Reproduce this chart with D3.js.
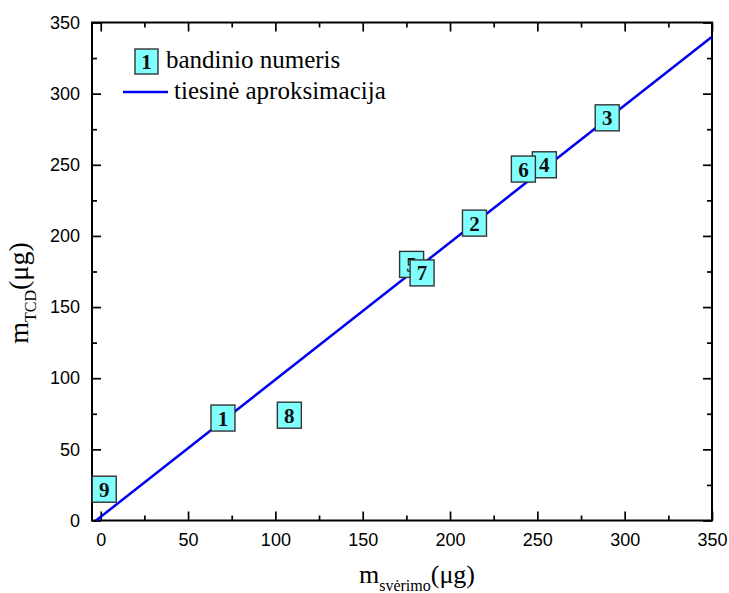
<!DOCTYPE html>
<html>
<head>
<meta charset="utf-8">
<script src="https://cdn.jsdelivr.net/npm/d3@7"></script>
<style>
  html, body { margin: 0; padding: 0; background: #fff; }
  svg { display: block; }
</style>
</head>
<body>
<svg id="chart" width="729" height="593"></svg>
<script>
// Sample masses: weighing (x) vs TCD (y), µg
const sampleIds = ["1", "2", "3", "4", "5", "6", "7", "8", "9"];
const massWeighed = [70, 214, 290, 254, 178, 242, 184, 108, 2];
const massTCD = [72, 209, 283, 250, 180, 247, 174, 74, 22];

// Linear fit y = a + b*x
const fitIntercept = 2.6;
const fitSlope = 0.964;
const fitRange = [-2.7, 350];

const xTicks = [0, 50, 100, 150, 200, 250, 300, 350];
const yTicks = [0, 50, 100, 150, 200, 250, 300, 350];
const minorStep = 25;

const svg = d3.select("#chart");
const plotL = 92, plotR = 712, plotT = 22.5, plotB = 520.5;

const x = d3.scaleLinear().domain([-5, 350]).range([plotL, plotR]);
const y = d3.scaleLinear().domain([0, 350]).range([plotB, plotT]);

const tickFont = "'Liberation Sans', Arial, sans-serif";
const serif = "'Liberation Serif', 'Times New Roman', serif";

const minorX = d3.range(0, 351, minorStep).filter(v => v % 50 !== 0);
const minorY = d3.range(0, 351, minorStep).filter(v => v % 50 !== 0);

// Axes with inward ticks
function styleAxis(g) {
  g.selectAll(".domain").remove();
  g.selectAll("line").attr("stroke", "#000").attr("stroke-width", 1.7);
}

svg.append("g").attr("transform", `translate(0,${plotB})`)
  .call(d3.axisBottom(x).tickValues(xTicks).tickSizeInner(-9).tickSizeOuter(0).tickPadding(13))
  .call(styleAxis)
  .call(g => g.selectAll("text").attr("font-family", tickFont).attr("font-size", 18).attr("fill", "#000"));
svg.append("g").attr("transform", `translate(0,${plotB})`)
  .call(d3.axisBottom(x).tickValues(minorX).tickSize(-5).tickFormat(""))
  .call(styleAxis);

svg.append("g").attr("transform", `translate(${plotL},0)`)
  .call(d3.axisLeft(y).tickValues(yTicks).tickSizeInner(-9).tickSizeOuter(0).tickPadding(12))
  .call(styleAxis)
  .call(g => g.selectAll("text").attr("font-family", tickFont).attr("font-size", 18).attr("fill", "#000"));
svg.append("g").attr("transform", `translate(${plotL},0)`)
  .call(d3.axisLeft(y).tickValues(minorY).tickSize(-5).tickFormat(""))
  .call(styleAxis);

svg.append("g").attr("transform", `translate(0,${plotT})`)
  .call(d3.axisTop(x).tickValues(xTicks).tickSize(-9).tickFormat(""))
  .call(styleAxis);
svg.append("g").attr("transform", `translate(0,${plotT})`)
  .call(d3.axisTop(x).tickValues(minorX).tickSize(-5).tickFormat(""))
  .call(styleAxis);

svg.append("g").attr("transform", `translate(${plotR},0)`)
  .call(d3.axisRight(y).tickValues(yTicks).tickSize(-9).tickFormat(""))
  .call(styleAxis);
svg.append("g").attr("transform", `translate(${plotR},0)`)
  .call(d3.axisRight(y).tickValues(minorY).tickSize(-5).tickFormat(""))
  .call(styleAxis);

// Frame
svg.append("rect")
  .attr("x", plotL).attr("y", plotT)
  .attr("width", plotR - plotL).attr("height", plotB - plotT)
  .attr("fill", "none").attr("stroke", "#000").attr("stroke-width", 2);

// Fit line
svg.append("line")
  .attr("x1", x(fitRange[0])).attr("y1", y(fitIntercept + fitSlope * fitRange[0]))
  .attr("x2", x(fitRange[1])).attr("y2", y(fitIntercept + fitSlope * fitRange[1]))
  .attr("stroke", "#0000ee").attr("stroke-width", 2.5);

// Sample markers: numbered boxes
const boxW = 24, boxH = 26;
const pts = sampleIds.map((id, i) => ({ id, mx: massWeighed[i], my: massTCD[i] }));
const marker = svg.append("g").selectAll("g").data(pts).join("g")
  .attr("transform", d => `translate(${x(d.mx)},${y(d.my)})`);
marker.append("rect")
  .attr("x", -boxW / 2).attr("y", -boxH / 2)
  .attr("width", boxW).attr("height", boxH)
  .attr("fill", "#80ffff").attr("stroke", "#333").attr("stroke-width", 1.4);
marker.append("text")
  .attr("text-anchor", "middle").attr("y", 7.5)
  .attr("font-family", serif).attr("font-weight", "bold").attr("font-size", 21)
  .attr("fill", "#111")
  .text(d => d.id);

// Legend
const lg = svg.append("g");
lg.append("rect").attr("x", 135).attr("y", 49).attr("width", 23).attr("height", 25)
  .attr("fill", "#80ffff").attr("stroke", "#333").attr("stroke-width", 1.4);
lg.append("text").attr("x", 146.5).attr("y", 69).attr("text-anchor", "middle")
  .attr("font-family", serif).attr("font-weight", "bold").attr("font-size", 21).attr("fill", "#111")
  .text(sampleIds[0]);
lg.append("text").attr("x", 166).attr("y", 68)
  .attr("font-family", serif).attr("font-size", 25).attr("fill", "#000")
  .text("bandinio numeris");
lg.append("line").attr("x1", 123).attr("x2", 168).attr("y1", 92).attr("y2", 92)
  .attr("stroke", "#0000ee").attr("stroke-width", 2.5);
lg.append("text").attr("x", 174).attr("y", 99)
  .attr("font-family", serif).attr("font-size", 25).attr("fill", "#000")
  .text("tiesinė aproksimacija");

// Axis titles
const xt = svg.append("text").attr("x", 417).attr("y", 583).attr("text-anchor", "middle")
  .attr("font-family", serif).attr("font-size", 26).attr("fill", "#000");
xt.append("tspan").text("m");
xt.append("tspan").attr("font-size", 16).attr("dy", 8).text("svėrimo");
xt.append("tspan").attr("dy", -8).text("(μg)");

const yt = svg.append("text")
  .attr("transform", "translate(28,293) rotate(-90)")
  .attr("text-anchor", "middle")
  .attr("font-family", serif).attr("font-size", 28).attr("fill", "#000");
yt.append("tspan").text("m");
yt.append("tspan").attr("font-size", 16).attr("dy", 8).text("TCD");
yt.append("tspan").attr("dy", -8).text("(μg)");
</script>
</body>
</html>
